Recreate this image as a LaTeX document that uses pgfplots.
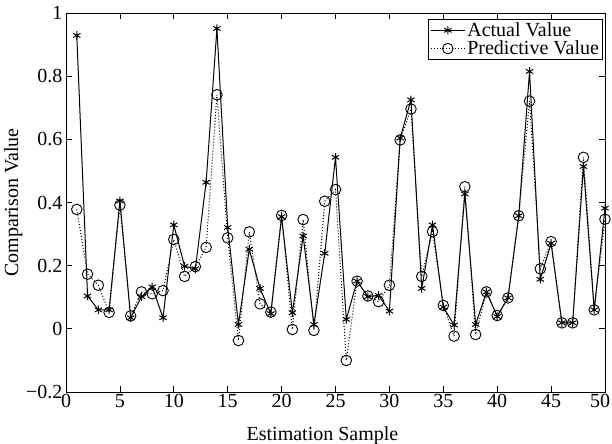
\documentclass[border=0pt]{standalone}
\usepackage{fontspec}
\setmainfont{Liberation Serif}
\usepackage{pgfplots}
\pgfplotsset{compat=1.18}
\begin{document}
\begin{tikzpicture}
\begin{axis}[
  scale only axis,
  width=539bp, height=379bp,
  xmin=0, xmax=50, ymin=-0.2, ymax=1,
  xtick={0,5,...,45},
  extra x ticks={50},
  extra x tick style={xticklabel style={xshift=-5bp}},
  ytick={-0.2,0,0.2,0.4,0.6,0.8,1},
  yticklabels={−0.2,0,0.2,0.4,0.6,0.8,1},
  /pgf/number format/assume math mode=true,
  tick align=inside,
  major tick length=6bp,
  tick style={black, line width=0.8bp},
  axis line style={line width=0.9bp},
  font=\fontsize{20bp}{23bp}\selectfont,
  xticklabel style={yshift=1bp},
  xlabel={Estimation Sample},
  ylabel={Comparison Value},
  xlabel style={at={(axis description cs:0.5,0)}, anchor=base, yshift=-48bp, xshift=-13bp},
  ylabel style={yshift=-3bp},
  legend image code/.code={\draw[mark repeat=2,mark phase=2] plot coordinates {(0bp,0bp)(17bp,0bp)(34bp,0bp)};},
  legend style={at={(0.996,0.985)}, anchor=north east, draw=black, line width=0.8bp,
    font=\fontsize{20bp}{21bp}\selectfont, inner sep=1.5bp, row sep=-1bp},
  legend cell align=left,
]
\addplot[black, line width=1bp, mark=asterisk, mark size=4.2bp, mark options={solid, line width=1bp}] coordinates {
(1,0.929) (2,0.104) (3,0.060) (4,0.060) (5,0.405) (6,0.035) (7,0.102) (8,0.133) (9,0.035) (10,0.329)
(11,0.198) (12,0.190) (13,0.464) (14,0.951) (15,0.321) (16,0.014) (17,0.252) (18,0.128) (19,0.048) (20,0.355)
(21,0.051) (22,0.294) (23,0.014) (24,0.239) (25,0.543) (26,0.030) (27,0.151) (28,0.102) (29,0.106) (30,0.056)
(31,0.604) (32,0.725) (33,0.128) (34,0.329) (35,0.069) (36,0.012) (37,0.427) (38,0.014) (39,0.117) (40,0.039)
(41,0.098) (42,0.358) (43,0.815) (44,0.157) (45,0.271) (46,0.019) (47,0.019) (48,0.514) (49,0.060) (50,0.382)
};
\addlegendentry{Actual Value}
\addplot[black, line width=1bp, dotted, mark=o, mark size=5.3bp, mark options={solid, line width=0.9bp}] coordinates {
(1,0.378) (2,0.173) (3,0.138) (4,0.052) (5,0.392) (6,0.041) (7,0.117) (8,0.111) (9,0.121) (10,0.283)
(11,0.166) (12,0.197) (13,0.258) (14,0.741) (15,0.288) (16,-0.037) (17,0.307) (18,0.079) (19,0.053) (20,0.359)
(21,-0.002) (22,0.346) (23,-0.005) (24,0.404) (25,0.441) (26,-0.100) (27,0.151) (28,0.104) (29,0.086) (30,0.138)
(31,0.598) (32,0.696) (33,0.166) (34,0.308) (35,0.074) (36,-0.023) (37,0.450) (38,-0.018) (39,0.117) (40,0.042)
(41,0.098) (42,0.358) (43,0.721) (44,0.190) (45,0.276) (46,0.019) (47,0.019) (48,0.543) (49,0.060) (50,0.347)
};
\addlegendentry{Predictive Value}
\end{axis}
\pgfresetboundingbox
\useasboundingbox (-66bp,-52bp) rectangle (546bp,392bp);
\end{tikzpicture}
\end{document}
